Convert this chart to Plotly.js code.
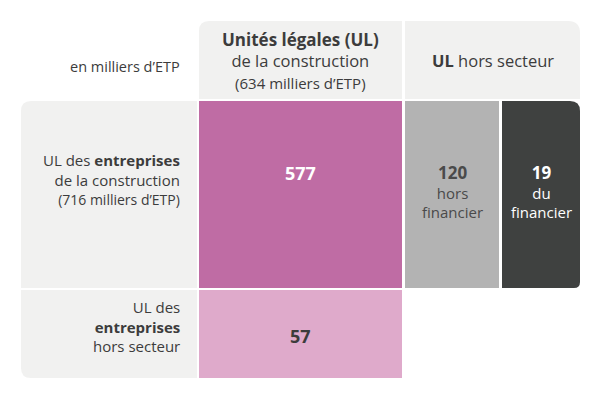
<!DOCTYPE html>
<html><head><meta charset="utf-8">
<script src="https://cdn.plot.ly/plotly-3.0.1.min.js"></script>
<style>html,body{margin:0;padding:0;background:#fff}#c{width:601px;height:399px}</style>
</head><body><div id="c"></div>
<script>
// ---- data ----
const unitLabel = "en milliers d’ETP";
const colHeaders = ["<b><span style='font-size:17px'>Unités légales (UL)</span></b><br>de la construction<br><span style='font-size:15px'>(634 milliers d’ETP)</span>", "<b>UL</b> hors secteur"];
const rowHeaders = ["UL des <b>entreprises</b><br>de la construction<br><span style='font-size:14px'>(716 milliers d’ETP)</span>", "UL des<br><b>entreprises</b><br>hors secteur"];
const cellValues = [577, 120, 19, 57];
const cellSubLabels = ["", "hors<br>financier", "du<br>financier", ""];

// ---- layout geometry (pixel units on fixed axes) ----
const C = {lab0:21, lab1:197, m0:199, m1:402, g0:405, g1:499, d0:502, d1:580};
const R = {h0:21, h1:99, r10:101, r11:288, r20:290, r21:378};
const col = {bg:"#f1f1f0", mag:"#bf6ca4", pink:"#dfaacb", grey:"#b3b3b3", dark:"#3f4140", txt:"#3c3c3c"};

function rr(x0,y0,x1,y1,r){ // r=[tl,tr,br,bl]
  const [tl,tr,br,bl]=r;
  let p=`M${x0+tl},${y0} L${x1-tr},${y0}`;
  p+= tr?` Q${x1},${y0} ${x1},${y0+tr}`:"";
  p+=` L${x1},${y1-br}`;
  p+= br?` Q${x1},${y1} ${x1-br},${y1}`:"";
  p+=` L${x0+bl},${y1}`;
  p+= bl?` Q${x0},${y1} ${x0},${y1-bl}`:"";
  p+=` L${x0},${y0+tl}`;
  p+= tl?` Q${x0},${y0} ${x0+tl},${y0}`:"";
  return p+" Z";
}
function shp(path,fill){return {type:"path",path,xref:"x",yref:"y",fillcolor:fill,line:{width:0},layer:"below"};}

const shapes=[
  shp(rr(C.m0,R.h0,C.m1,R.h1,[10,0,0,0]),col.bg),
  shp(rr(C.g0,R.h0,C.d1,R.h1,[0,12,0,0]),col.bg),
  shp(rr(C.lab0,R.r10,C.lab1,R.r11,[10,0,0,0]),col.bg),
  shp(rr(C.lab0,R.r20,C.lab1,R.r21,[0,0,0,10]),col.bg),
  shp(rr(C.m0,R.r10,C.m1,R.r11,[0,0,0,0]),col.mag),
  shp(rr(C.g0,R.r10,C.g1,R.r11,[0,0,0,0]),col.grey),
  shp(rr(C.d0,R.r10,C.d1,R.r11,[0,10,6,0]),col.dark),
  shp(rr(C.m0,R.r20,C.m1,R.r21,[0,0,0,0]),col.pink)
];

const F="Open Sans, sans-serif";
function ann(x,y,text,opts){return Object.assign({x,y,xref:"x",yref:"y",text,showarrow:false,font:{family:F,size:15,color:col.txt}},opts||{});}
const xr=182;
const annotations=[
  ann(xr,66,unitLabel,{xanchor:"right",font:{family:F,size:14.5,color:col.txt}}),
  ann((C.m0+C.m1)/2,60,colHeaders[0],{align:"center",font:{family:F,size:16.5,color:col.txt}}),
  ann((C.g0+C.d1)/2,60,colHeaders[1],{font:{family:F,size:16.5,color:col.txt}}),
  ann(xr,179,rowHeaders[0],{xanchor:"right",align:"right"}),
  ann(xr,326,rowHeaders[1],{xanchor:"right",align:"right"}),
  ann((C.m0+C.m1)/2,173,"<b>"+cellValues[0]+"</b>",{font:{family:F,size:18,color:"#ffffff"}}),
  ann((C.g0+C.g1)/2,191,"<b><span style='font-size:17px'>"+cellValues[1]+"</span></b><br>"+cellSubLabels[1],{font:{family:F,size:15,color:"#4a4a4a"}}),
  ann((C.d0+C.d1)/2,191,"<b><span style='font-size:17px'>"+cellValues[2]+"</span></b><br>"+cellSubLabels[2],{font:{family:F,size:15,color:"#ffffff"}}),
  ann((C.m0+C.m1)/2,336,"<b>"+cellValues[3]+"</b>",{font:{family:F,size:18,color:col.txt}})
];

const layout={
  width:601,height:399,margin:{l:0,r:0,t:0,b:0},
  paper_bgcolor:"#ffffff",plot_bgcolor:"#ffffff",
  xaxis:{range:[0,601],visible:false,fixedrange:true},
  yaxis:{range:[399,0],visible:false,fixedrange:true},
  shapes,annotations,showlegend:false
};
Plotly.newPlot("c",[],layout,{staticPlot:true,displayModeBar:false});
</script></body></html>
